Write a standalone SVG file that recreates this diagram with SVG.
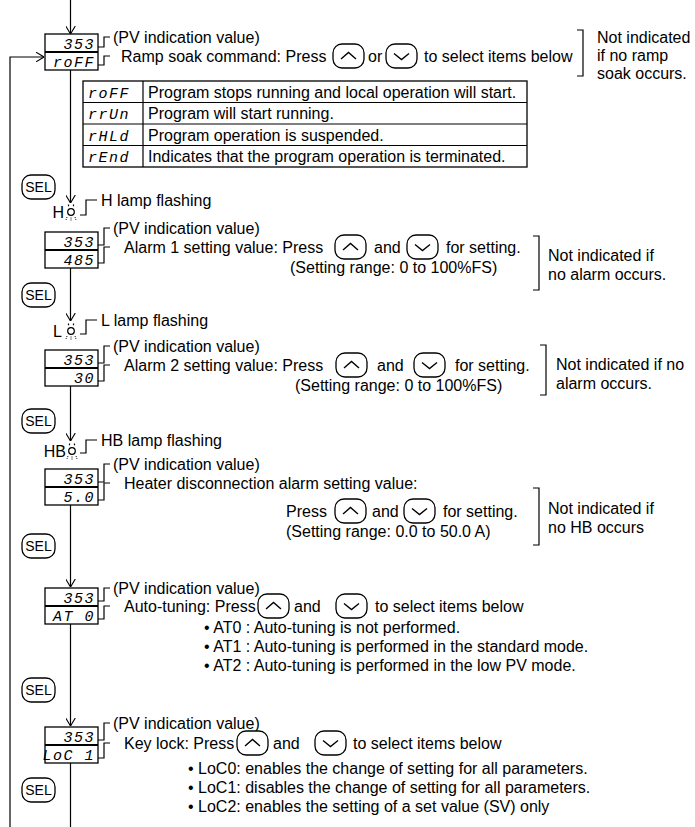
<svg xmlns="http://www.w3.org/2000/svg" xmlns:xlink="http://www.w3.org/1999/xlink" width="695" height="827" viewBox="0 0 695 827">
<style>
.t{font-family:"Liberation Sans",Arial,sans-serif;font-size:16px;fill:#000}
.s{font-family:"Liberation Sans",Arial,sans-serif;font-size:14px;fill:#000}
.seg{font-family:"Liberation Mono","DejaVu Sans Mono",monospace;font-style:italic;font-size:15px;fill:#000;letter-spacing:1.5px}
.ln{fill:none;stroke:#000;stroke-width:1.2}
.bx{fill:#fff;stroke:#000;stroke-width:1.3}
.dv{stroke:#000;stroke-width:2}
</style>
<defs>
<marker id="ah" viewBox="0 0 10 12" refX="10" refY="6" markerWidth="8" markerHeight="10" orient="auto" markerUnits="userSpaceOnUse">
<path d="M0,0 L10,6 L0,12" fill="none" stroke="#000" stroke-width="1.4"/>
</marker>
<g id="up"><rect x="0" y="0" width="31" height="24" rx="9" fill="#fff" stroke="#000" stroke-width="1.3"/><path d="M8 15 L15.5 8.5 L23 15" fill="none" stroke="#000" stroke-width="1.4"/></g>
<g id="dn"><rect x="0" y="0" width="31" height="24" rx="9" fill="#fff" stroke="#000" stroke-width="1.3"/><path d="M8 9.5 L15.5 15.5 L23 9.5" fill="none" stroke="#000" stroke-width="1.4"/></g>
<g id="sel"><rect x="0" y="0" width="33" height="24" rx="9" fill="#fff" stroke="#000" stroke-width="1.3"/><text class="s" x="16.5" y="17" text-anchor="middle">SEL</text></g>
<g id="lamp"><circle cx="0" cy="0" r="3.3" fill="none" stroke="#000" stroke-width="1.2"/><path d="M-2.5 -7.5v1.8M2.5 -7.5v1.8" stroke="#000" stroke-width="1.2"/><path d="M-4 5l-1 3M0 5.5v3M4 5l1 3" stroke="#000" stroke-width="1" stroke-dasharray="1 1"/></g>
</defs>

<g id="connectors" class="ln">
<path d="M70.5 0 V34" marker-end="url(#ah)"/>
<path d="M10 827 V57 H44" marker-end="url(#ah)"/>
<path d="M70.5 70 V203" marker-end="url(#ah)"/>
<path d="M70.5 268 V321" marker-end="url(#ah)"/>
<path d="M70.5 386 V441" marker-end="url(#ah)"/>
<path d="M70.5 505 V587" marker-end="url(#ah)"/>
<path d="M70.5 624 V726" marker-end="url(#ah)"/>
<path d="M70.5 763 V827"/>
<path d="M98 47 H104 V37 H110"/>
<path d="M98 65 H104 V56 H110"/>
<path d="M80 215 H86 V200 H97"/>
<path d="M98 245 H104 V228 H110"/>
<path d="M98 263 H104 V247 H110"/>
<path d="M80 334 H86 V320 H97"/>
<path d="M98 363 H104 V346 H110"/>
<path d="M98 381 H104 V365 H110"/>
<path d="M80 453 H86 V440 H97"/>
<path d="M98 482 H104 V464 H110"/>
<path d="M98 500 H104 V483 H110"/>
<path d="M98 601 H104 V588 H110"/>
<path d="M98 619 H104 V606 H110"/>
<path d="M98 740 H104 V723 H110"/>
<path d="M98 758 H104 V743 H110"/>
<path d="M577 30 H583 V76 H577"/>
<path d="M533 236 H539 V290 H533"/>
<path d="M540 345 H546 V395 H540"/>
<path d="M533 488 H539 V545 H533"/>
</g>

<g id="ramp-soak">
<rect class="bx" x="45" y="34" width="53" height="36"/><line class="dv" x1="45" y1="52" x2="98" y2="52"/>
<text class="seg" x="95" y="49" text-anchor="end">353</text>
<text class="seg" x="95" y="67" text-anchor="end">roFF</text>
<text class="t" x="113" y="43">(PV indication value)</text>
<text class="t" x="121" y="62">Ramp soak command:  Press</text>
<use href="#up" x="333" y="44"/>
<text class="t" x="368" y="62">or</text>
<use href="#dn" x="386" y="44"/>
<text class="t" x="424" y="62">to select items below</text>
<text class="t" x="597" y="43">Not indicated</text>
<text class="t" x="597" y="61">if no ramp</text>
<text class="t" x="597" y="79">soak occurs.</text>
</g>

<g id="ramp-table">
<rect x="83" y="81" width="444" height="86" fill="#fff" stroke="#000" stroke-width="1.3"/>
<path d="M143 81 V167 M83 102.5 H527 M83 124 H527 M83 145.5 H527" stroke="#000" stroke-width="1.2" fill="none"/>
<text class="seg" x="88" y="97.5">roFF</text>
<text class="seg" x="88" y="119">rrUn</text>
<text class="seg" x="88" y="140.5">rHLd</text>
<text class="seg" x="88" y="162">rEnd</text>
<text class="t" x="148" y="97.5">Program stops running and local operation will start.</text>
<text class="t" x="148" y="119">Program will start running.</text>
<text class="t" x="148" y="140.5">Program operation is suspended.</text>
<text class="t" x="148" y="162">Indicates that the program operation is terminated.</text>
</g>

<g id="sel1"><use href="#sel" x="22" y="175"/></g>

<g id="h-lamp">
<text class="t" x="64" y="218" text-anchor="end">H</text>
<use href="#lamp" x="71" y="212"/>
<text class="t" x="101" y="206">H lamp flashing</text>
</g>

<g id="alarm1">
<rect class="bx" x="45" y="232" width="53" height="36"/><line class="dv" x1="45" y1="250" x2="98" y2="250"/>
<text class="seg" x="95" y="247" text-anchor="end">353</text>
<text class="seg" x="95" y="265" text-anchor="end">485</text>
<text class="t" x="113" y="234">(PV indication value)</text>
<text class="t" x="124" y="253">Alarm 1 setting value:  Press</text>
<use href="#up" x="335" y="235"/>
<text class="t" x="374" y="253">and</text>
<use href="#dn" x="407" y="235"/>
<text class="t" x="446" y="253">for setting.</text>
<text class="t" x="290" y="273">(Setting range: 0 to 100%FS)</text>
<text class="t" x="548" y="261">Not indicated if</text>
<text class="t" x="548" y="280">no alarm occurs.</text>
</g>

<g id="sel2"><use href="#sel" x="22" y="283"/></g>

<g id="l-lamp">
<text class="t" x="62" y="337" text-anchor="end">L</text>
<use href="#lamp" x="71" y="331"/>
<text class="t" x="101" y="326">L lamp flashing</text>
</g>

<g id="alarm2">
<rect class="bx" x="45" y="350" width="53" height="36"/><line class="dv" x1="45" y1="368" x2="98" y2="368"/>
<text class="seg" x="95" y="365" text-anchor="end">353</text>
<text class="seg" x="95" y="383" text-anchor="end">30</text>
<text class="t" x="113" y="352">(PV indication value)</text>
<text class="t" x="124" y="371">Alarm 2 setting value:  Press</text>
<use href="#up" x="336" y="353"/>
<text class="t" x="377" y="371">and</text>
<use href="#dn" x="414" y="353"/>
<text class="t" x="455" y="371">for setting.</text>
<text class="t" x="295" y="391">(Setting range: 0 to 100%FS)</text>
<text class="t" x="556" y="370">Not indicated if no</text>
<text class="t" x="556" y="389">alarm occurs.</text>
</g>

<g id="sel3"><use href="#sel" x="22" y="409"/></g>

<g id="hb-lamp">
<text class="t" x="66" y="457" text-anchor="end">HB</text>
<use href="#lamp" x="72" y="451"/>
<text class="t" x="101" y="446">HB lamp flashing</text>
</g>

<g id="heater">
<rect class="bx" x="45" y="469" width="53" height="36"/><line class="dv" x1="45" y1="487" x2="98" y2="487"/>
<text class="seg" x="95" y="484" text-anchor="end">353</text>
<text class="seg" x="95" y="502" text-anchor="end">5.0</text>
<text class="t" x="113" y="470">(PV indication value)</text>
<text class="t" x="124" y="489">Heater disconnection alarm setting value:</text>
<text class="t" x="286" y="517">Press</text>
<use href="#up" x="335" y="499"/>
<text class="t" x="372" y="517">and</text>
<use href="#dn" x="404" y="499"/>
<text class="t" x="443" y="517">for setting.</text>
<text class="t" x="286" y="537">(Setting range: 0.0 to 50.0 A)</text>
<text class="t" x="548" y="514">Not indicated if</text>
<text class="t" x="548" y="533">no HB occurs</text>
</g>

<g id="sel4"><use href="#sel" x="22" y="534"/></g>

<g id="auto-tuning">
<rect class="bx" x="45" y="588" width="53" height="36"/><line class="dv" x1="45" y1="606" x2="98" y2="606"/>
<text class="seg" x="95" y="603" text-anchor="end">353</text>
<text class="seg" x="95" y="621" text-anchor="end">AT 0</text>
<text class="t" x="113" y="594">(PV indication value)</text>
<text class="t" x="124" y="612">Auto-tuning: Press</text>
<use href="#up" x="258" y="594"/>
<text class="t" x="294" y="612">and</text>
<use href="#dn" x="336" y="594"/>
<text class="t" x="375" y="612">to select items below</text>
<text class="t" x="204" y="633">• AT0 : Auto-tuning is not performed.</text>
<text class="t" x="204" y="652">• AT1 : Auto-tuning is performed in the standard mode.</text>
<text class="t" x="204" y="671">• AT2 : Auto-tuning is performed in the low PV mode.</text>
</g>

<g id="sel5"><use href="#sel" x="22" y="678"/></g>

<g id="key-lock">
<rect class="bx" x="45" y="727" width="53" height="36"/><line class="dv" x1="45" y1="745" x2="98" y2="745"/>
<text class="seg" x="95" y="742" text-anchor="end">353</text>
<text class="seg" x="95" y="760" text-anchor="end">LoC 1</text>
<text class="t" x="113" y="729">(PV indication value)</text>
<text class="t" x="124" y="749">Key lock: Press</text>
<use href="#up" x="237" y="731"/>
<text class="t" x="273" y="749">and</text>
<use href="#dn" x="315" y="731"/>
<text class="t" x="353" y="749">to select items below</text>
<text class="t" x="188" y="774">• LoC0: enables the change of setting for all parameters.</text>
<text class="t" x="188" y="793">• LoC1: disables the change of setting for all parameters.</text>
<text class="t" x="188" y="812">• LoC2: enables the setting of a set value (SV) only</text>
</g>

<g id="sel6"><use href="#sel" x="22" y="778"/></g>
</svg>
